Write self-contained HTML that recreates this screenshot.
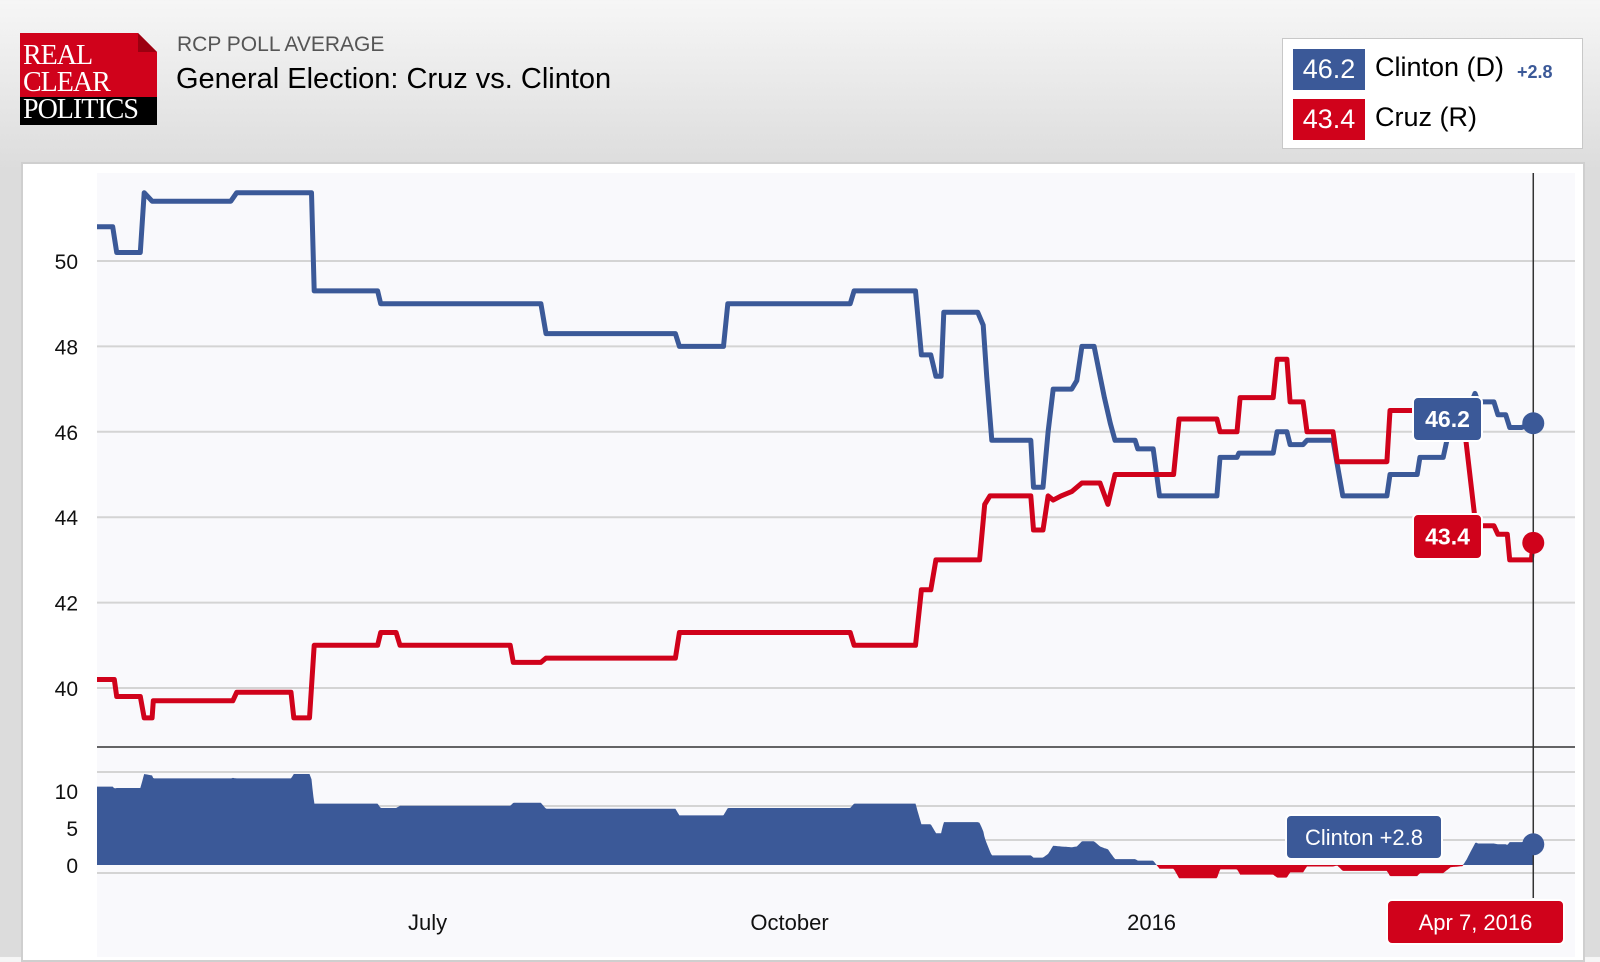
<!DOCTYPE html>
<html><head><meta charset="utf-8"><style>
html,body{margin:0;padding:0}
body{width:1600px;height:957px;overflow:hidden;background:linear-gradient(#f6f6f6,#dcdcdc 170px,#dcdcdc);font-family:"Liberation Sans",sans-serif;position:relative}
.abs{position:absolute}
</style></head><body>
<div class="abs" style="left:20px;top:33px;width:137px;height:92px">
  <div style="position:absolute;left:0;top:0;width:137px;height:64px;background:#d0021b;clip-path:polygon(0 0,118px 0,137px 19px,137px 64px,0 64px)"></div>
  <div style="position:absolute;left:118px;top:0;width:19px;height:19px;background:#9b0010;clip-path:polygon(0 0,100% 100%,0 100%)"></div>
  <div style="position:absolute;left:0;top:64px;width:137px;height:28px;background:#000"></div>
  <div style="position:absolute;left:3px;top:9px;color:#fff;font-family:'Liberation Serif',serif;font-size:28px;line-height:27px;letter-spacing:-1px">REAL<br>CLEAR<br>POLITICS</div>
</div>
<div class="abs" style="left:177px;top:33px;font-size:21px;color:#555">RCP POLL AVERAGE</div>
<div class="abs" style="left:176px;top:63px;font-size:29px;color:#000">General Election: Cruz vs. Clinton</div>

<div class="abs" style="left:1282px;top:38px;width:301px;height:111px;background:#fff;border:1px solid #c8c8c8;box-sizing:border-box">
  <div class="abs" style="left:10px;top:10px;width:280px;height:42px">
    <div class="abs" style="left:0;top:0;width:72px;height:41px;background:#3b5998;color:#fff;font-size:27px;text-align:center;line-height:41px">46.2</div>
    <div class="abs" style="left:82px;top:3px;font-size:27px;color:#000">Clinton (D)</div>
    <div class="abs" style="left:224px;top:13px;font-size:18px;font-weight:bold;color:#3b5998">+2.8</div>
  </div>
  <div class="abs" style="left:10px;top:60px;width:280px;height:42px">
    <div class="abs" style="left:0;top:0;width:72px;height:41px;background:#d0021b;color:#fff;font-size:27px;text-align:center;line-height:41px">43.4</div>
    <div class="abs" style="left:82px;top:3px;font-size:27px;color:#000">Cruz (R)</div>
  </div>
</div>

<div class="abs" style="left:21px;top:162px;width:1564px;height:800px;background:#fff;border:2px solid #cfcfcf;box-sizing:border-box"></div>
<svg class="abs" style="left:0;top:0" width="1600" height="957">
  <rect x="97" y="173" width="1478" height="784" fill="#f9f9fc"/>
  <g id="grid"></g><g id="area"></g><g id="lines"></g><g id="axes"></g><g id="overlay"></g>
</svg>
<script>
const clintonDays=[0,4,5,11,12,14,34,35.5,54.5,55.2,71.3,72.1,112.8,114.1,147,148,159.2,160.3,191.4,192.4,208,209.5,211.9,213.2,214.5,215.2,223.8,225.2,226.1,227.4,237.3,238,240.4,241.7,243,247.7,249,250.3,253.4,254.7,256,257.5,258.7,263.8,264.5,268.4,270,284.6,285.4,289.7,290.2,298.9,299.9,302.4,303.2,306.5,307.5,314.1,316.6,327.8,328.6,335.5,336.2,342.1,344,348,350.2,351,355,356,358,359,362,365];
const clintonVals=[50.8,50.8,50.2,50.2,51.6,51.4,51.4,51.6,51.6,49.3,49.3,49.0,49.0,48.3,48.3,48.0,48.0,49.0,49.0,49.3,49.3,47.8,47.8,47.3,47.3,48.8,48.8,48.5,47.3,45.8,45.8,44.7,44.7,46.0,47.0,47.0,47.2,48.0,48.0,47.4,46.8,46.2,45.8,45.8,45.6,45.6,44.5,44.5,45.4,45.4,45.5,45.5,46.0,46.0,45.7,45.7,45.8,45.8,44.5,44.5,45.0,45.0,45.4,45.4,46.2,46.4,46.9,46.7,46.7,46.4,46.4,46.1,46.1,46.2];
const cruzDays=[0,4.4,5,11,12,14,14.3,34.5,35.5,49.3,50,54,55.2,71.3,72.1,76,77,105,105.8,112.8,114.1,147,148,191.4,192.4,208,209.5,211.9,213.2,224.3,225.6,226.9,237.3,238,240.4,241.7,243,245,247.7,250.3,254.9,256.9,258.7,273.6,275,284.6,285.4,289.7,290.5,298.9,299.9,302.4,303.2,306.5,307.5,314.1,315.2,327.8,328.6,347,350.4,355,356,358.4,359,364.5,365];
const cruzVals=[40.2,40.2,39.8,39.8,39.3,39.3,39.7,39.7,39.9,39.9,39.3,39.3,41.0,41.0,41.3,41.3,41.0,41.0,40.6,40.6,40.7,40.7,41.3,41.3,41.0,41.0,42.3,42.3,43.0,43.0,44.3,44.5,44.5,43.7,43.7,44.5,44.4,44.5,44.6,44.8,44.8,44.3,45.0,45.0,46.3,46.3,46.0,46.0,46.8,46.8,47.7,47.7,46.7,46.7,46.0,46.0,45.3,45.3,46.5,46.5,43.8,43.8,43.6,43.6,43.0,43.0,43.4];
const yTicks=[40,42,44,46,48,50];
const spreadTicks=[0,5,10];
const xTickDays=[84,176,268];
const xTickLabels=["July","October","2016"];

const NS="http://www.w3.org/2000/svg";
const X0=97,PXD=3.935;
function xs(d){return X0+d*PXD;}
function ys(v){return 261+(50-v)*42.7;}
function ysp(v){return 865-v*7.4;}
function mk(tag,attrs,parent){const e=document.createElementNS(NS,tag);for(const k in attrs)e.setAttribute(k,attrs[k]);document.getElementById(parent).appendChild(e);return e;}
function interp(ds,vs,d){if(d<=ds[0])return vs[0];for(let i=1;i<ds.length;i++){if(d<=ds[i]){const t=(d-ds[i-1])/((ds[i]-ds[i-1])||1);return vs[i-1]+t*(vs[i]-vs[i-1]);}}return vs[vs.length-1];}

yTicks.forEach(v=>{
  const g=mk('line',{x1:97,x2:1575,y1:ys(v),y2:ys(v),stroke:'#d4d4d4','stroke-width':2},'grid');
  
  
  const t=mk('text',{x:78,y:ys(v)+8,'text-anchor':'end','font-size':21,fill:'#111'},'axes');
  t.textContent=v;
  
  
});
[772,806,840,873].forEach(y=>{
  const g=mk('line',{x1:97,x2:1575,y1:y,y2:y,stroke:'#d4d4d4','stroke-width':2},'grid');
  
  
});
spreadTicks.forEach(v=>{
  const t=mk('text',{x:78,y:ysp(v)+8,'text-anchor':'end','font-size':21,fill:'#111'},'axes');
  t.textContent=v;
  
  
});
const sep=mk('line',{x1:97,x2:1575,y1:747,y2:747,stroke:'#333','stroke-width':1.5},'axes');


xTickDays.forEach((d,i)=>{
  const t=mk('text',{x:xs(d),y:930,'text-anchor':'middle','font-size':22,fill:'#111'},'axes');
  t.textContent=xTickLabels[i];
  
  
});

let pos='M'+xs(0)+','+ysp(0),neg='M'+xs(0)+','+ysp(0);
for(let d=0;d<=365.001;d+=0.25){
  const s=interp(clintonDays,clintonVals,d)-interp(cruzDays,cruzVals,d);
  pos+=' L'+xs(d).toFixed(1)+','+ysp(Math.max(s,0)).toFixed(1);
  neg+=' L'+xs(d).toFixed(1)+','+ysp(Math.min(s,0)).toFixed(1);
}
pos+=' L'+xs(365)+','+ysp(0)+'Z';neg+=' L'+xs(365)+','+ysp(0)+'Z';
const pa=mk('path',{d:pos,fill:'#3b5998'},'area');


const na=mk('path',{d:neg,fill:'#d0021b'},'area');



function line(ds,vs,color,name){
  const d=ds.map((x,i)=>(i?'L':'M')+xs(x).toFixed(1)+','+ys(vs[i]).toFixed(1)).join(' ');
  const p=mk('path',{d:d,fill:'none',stroke:color,'stroke-width':5,'stroke-linejoin':'round'},'lines');
  
  
}
line(clintonDays,clintonVals,'#3b5998','clinton-line');
line(cruzDays,cruzVals,'#d0021b','cruz-line');

const lastC=clintonVals[clintonVals.length-1],lastR=cruzVals[cruzVals.length-1],lastD=clintonDays[clintonDays.length-1];
const ch=mk('line',{x1:xs(lastD),x2:xs(lastD),y1:173,y2:898,stroke:'#333','stroke-width':1.5},'overlay');


const dc=mk('circle',{cx:xs(lastD),cy:ys(lastC),r:11,fill:'#3b5998'},'overlay');


const dr=mk('circle',{cx:xs(lastD),cy:ys(lastR),r:11,fill:'#d0021b'},'overlay');


const spread=lastC-lastR;
const ds=mk('circle',{cx:xs(lastD),cy:ysp(spread),r:11,fill:'#3b5998'},'overlay');



function label(x,y,w,h,fill,text,name,fs,fw){
  const r=mk('rect',{x:x,y:y,width:w,height:h,rx:5,fill:fill,stroke:'#fff','stroke-width':2},'overlay');
  
  
  const t=mk('text',{x:x+w/2,y:y+h/2+8,'text-anchor':'middle','font-size':fs,'font-weight':fw,fill:'#fff'},'overlay');
  t.textContent=text;
  
  
}
label(1413,397,69,44,'#3b5998',lastC.toFixed(1),'clinton-value-label',23,'bold');
label(1413,514,69,45,'#d0021b',lastR.toFixed(1),'cruz-value-label',23,'bold');
label(1286,815,156,44,'#3b5998','Clinton +'+spread.toFixed(1),'spread-label',22,'normal');
label(1387,900,177,44,'#d0021b','Apr 7, 2016','date-label',22,'normal');
</script>
</body></html>
